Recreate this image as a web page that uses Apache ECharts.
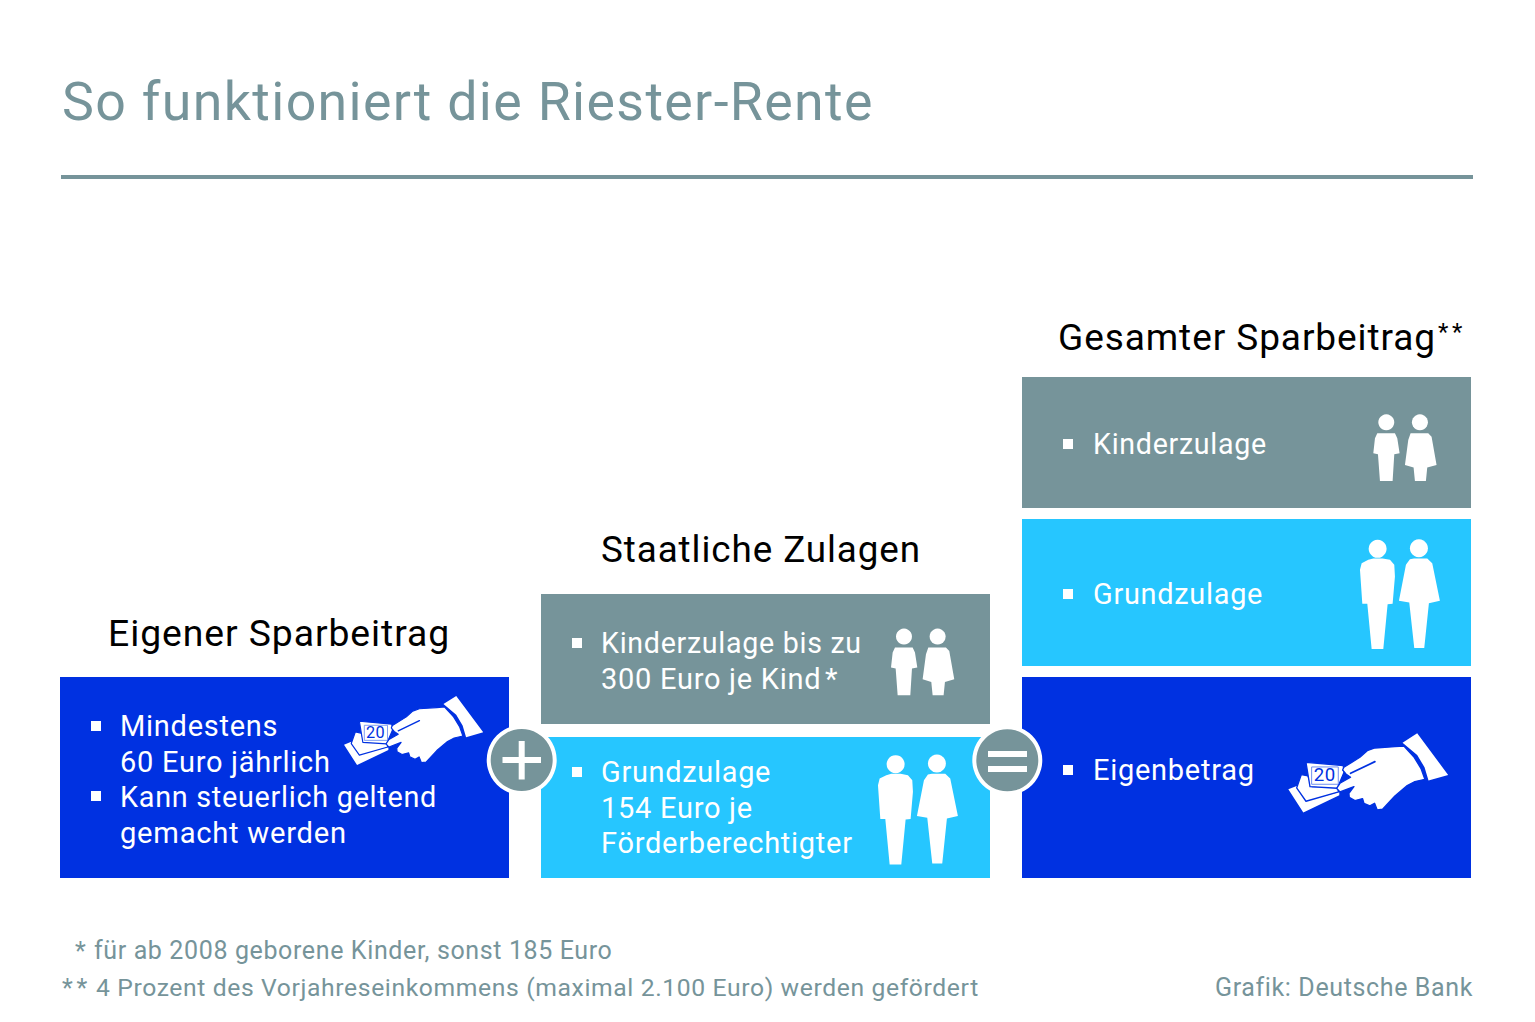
<!DOCTYPE html>
<html><head><meta charset="utf-8">
<script src="https://cdn.jsdelivr.net/npm/echarts@6/dist/echarts.min.js"></script>
<style>html,body{margin:0;padding:0;background:#fff}#c{width:1535px;height:1022px}svg text{letter-spacing:.025em}</style>
</head><body><div id="c"></div>
<script>
const columns = ['Eigener Sparbeitrag', 'Staatliche Zulagen', 'Gesamter Sparbeitrag'];
const eigenbetrag = [201, 0, 201];
const spacerLow = [0, 0, 11];
const grundzulage = [0, 141, 147];
const spacerHigh = [0, 13, 11];
const kinderzulage = [0, 130, 131];

const BLUE = '#0031E1', CYAN = '#26C6FF', GREY = '#76949A', FONT = 'Roboto, sans-serif';

function txt(x, y, text, size, fill, align) {
  return {type:'text', x, y, silent:true, style:{text, fill, font:`${size}px ${FONT}`, textAlign:align||'left', textVerticalAlign:'middle'}};
}
function bullet(x, y) { return {type:'rect', silent:true, shape:{x, y:y-5, width:10, height:10}, style:{fill:'#fff'}}; }
function poly(points, fill, extra) { return {type:'polygon', silent:true, shape:{points}, style:Object.assign({fill:fill||'#fff'}, extra||{})}; }
function head(cx, cy, r) { return {type:'circle', silent:true, shape:{cx, cy, r}, style:{fill:'#fff'}}; }

const smallPair = () => [
  head(139,67,24), poly([[112,100],[165,100],[172,115],[179,160],[163,163],[158,243],[120,243],[114,163],[100,160],[105,115]]),
  head(240,67,24), poly([[212,100],[265,100],[275,110],[290,195],[262,203],[258,243],[225,243],[221,203],[195,195],[205,120]])
];
const bigPair = () => [
  head(113,447,27), poly([[85,480],[100,476],[128,476],[150,480],[163,495],[165,530],[158,612],[143,613],[130,748],[95,748],[82,612],[67,612],[60,510],[65,490]]),
  head(237,445,27), poly([[210,478],[222,476],[262,476],[277,490],[300,603],[267,610],[253,745],[223,745],[208,608],[177,603],[198,495]])
];
function people(x, y, shapes) { return {type:'group', x, y, scaleX:1/3, scaleY:1/3, silent:true, children:shapes}; }

function hand(x, y, s) {
  const edge = {stroke:BLUE, lineWidth:4, lineJoin:'round'};
  return {type:'group', x, y, scaleX:s, scaleY:s, silent:true, children:[
    poly([[25,208],[50,198],[78,243],[178,216],[178,226],[70,278]]),
    poly([[64,164],[84,168],[96,200],[172,200],[176,216],[78,244],[50,204]],'#fff',edge),
    poly([[78,127],[190,137],[192,158],[172,205],[90,200]],'#fff',edge),
    {type:'rect', silent:true, shape:{x:95,y:141,width:80,height:52}, style:{fill:'#fff', stroke:'#6f8ff0', lineWidth:3}},
    {type:'text', x:134, y:166, silent:true, style:{text:'20', fill:BLUE, font:`56px ${FONT}`, textAlign:'center', textVerticalAlign:'middle'}},
    poly([[368,68],[412,40],[505,165],[446,182],[434,142],[412,105]]),
    poly([[192,142],[240,112],[262,92],[285,84],[345,80],[372,78],[403,112],[424,147],[435,178],[405,185],[382,197],[345,228],[308,268],[292,270],[284,250],[270,258],[252,250],[248,236],[225,242],[208,232],[207,220],[222,200],[180,216],[170,205],[180,190],[212,172],[198,162],[188,150]],'#fff',edge),
    {type:'line', silent:true, shape:{x1:212,y1:160,x2:285,y2:125}, style:{stroke:BLUE, lineWidth:5, lineCap:'round'}}
  ]};
}
function operator(cx, cy, bars) {
  return {type:'group', silent:true, children:[
    {type:'circle', silent:true, shape:{cx, cy, r:35}, style:{fill:'#fff'}},
    {type:'circle', silent:true, shape:{cx, cy, r:31}, style:{fill:GREY}}
  ].concat(bars.map(b=>({type:'rect', silent:true, shape:{x:b[0],y:b[1],width:b[2],height:b[3]}, style:{fill:'#fff'}})))};
}
function raise(el) { el.z = 10; if (el.children) el.children.forEach(raise); return el; }

const chart = echarts.init(document.getElementById('c'), null, {renderer:'svg'});
const bar = (name, data, color) => ({name, type:'bar', stack:'a', data, barWidth:449, silent:true,
  itemStyle:{color}, animation:false});
chart.setOption({
  animation:false,
  backgroundColor:'#fff',
  title:{text:'So funktioniert die Riester-Rente', left:57, top:69, textStyle:{fontFamily:'Roboto, sans-serif', fontSize:53.7, fontWeight:'normal', color:GREY}},
  grid:{left:44, width:1443, top:370, height:508},
  xAxis:{type:'category', data:columns, show:false},
  yAxis:{type:'value', min:0, max:508, show:false},
  series:[
    bar('Eigenbetrag', eigenbetrag, BLUE),
    bar('spacer1', spacerLow, 'transparent'),
    bar('Grundzulage', grundzulage, CYAN),
    bar('spacer2', spacerHigh, 'transparent'),
    bar('Kinderzulage', kinderzulage, GREY)
  ],
  graphic:{elements:[
    {type:'rect', silent:true, shape:{x:61,y:175,width:1412,height:4}, style:{fill:GREY}},
    txt(108,633,'Eigener Sparbeitrag',37.3,'#000'),
    txt(601,549,'Staatliche Zulagen',36.8,'#000'),
    txt(1058,337,'Gesamter Sparbeitrag',37,'#000'),
    txt(1438,332,'*\u200a*',24,'#000'),
    bullet(91,726), txt(120,726,'Mindestens',29,'#fff'), txt(120,762,'60 Euro jährlich',29,'#fff'),
    bullet(91,796), txt(120,797,'Kann steuerlich geltend',28.8,'#fff'), txt(120,833,'gemacht werden',29.2,'#fff'),
    bullet(572,643), txt(601,643,'Kinderzulage bis zu',28.6,'#fff'), txt(601,679,'300 Euro je Kind\u200a*',29,'#fff'),
    bullet(572,772), txt(601,772,'Grundzulage',28.9,'#fff'), txt(601,808,'154 Euro je',29,'#fff'), txt(601,843,'Förderberechtigter',29,'#fff'),
    bullet(1063,444), txt(1093,444,'Kinderzulage',28.6,'#fff'),
    bullet(1063,594), txt(1093,594,'Grundzulage',28.9,'#fff'),
    bullet(1063,770), txt(1093,770,'Eigenbetrag',29,'#fff'),
    hand(336.75,684.4,0.29), hand(1280,720,1/3),
    people(857.7,614.3,smallPair()), people(858,615.3,bigPair()),
    people(1340,400,smallPair()), people(1340,400,bigPair()),
    operator(521.7,760,[[502.5,757,38.5,6],[518.7,741,6,38.5]]),
    operator(1007.3,760.3,[[988,751,39,6],[988,766,39,6]]),
    txt(75,951,'*',25,GREY), txt(94,950,'für ab 2008 geborene Kinder, sonst 185 Euro',25,GREY),
    txt(62,988,'*\u200a*',25,GREY), txt(96,987,'4 Prozent des Vorjahreseinkommens (maximal 2.100 Euro) werden gefördert',24.7,GREY),
    txt(1473,987,'Grafik: Deutsche Bank',25,GREY,'right')
  ].map(raise)}
});
</script></body></html>
